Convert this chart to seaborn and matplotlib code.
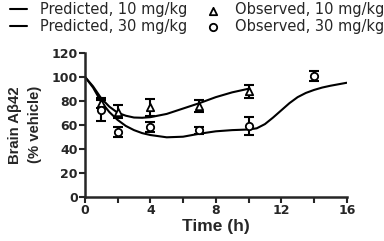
import numpy as np
import pandas as pd
import matplotlib
matplotlib.use("Agg")
import matplotlib.pyplot as plt
import seaborn as sns

# 예측 곡선 (model prediction)
pred_time_10 = [0, 0.5, 1, 1.5, 2, 2.5, 3, 3.5, 4, 5, 6, 7, 8, 9, 10]
pred_10 = [100, 92, 82, 75, 70, 67.5, 66, 65.8, 66.3, 69, 73.5, 78, 83, 87, 90]
pred_time_30 = [0, 0.5, 1, 1.5, 2, 2.5, 3, 3.5, 4, 5, 6, 7, 8, 9, 10, 10.5, 11,
                11.5, 12, 12.5, 13, 13.5, 14, 14.5, 15, 16]
pred_30 = [100, 91, 79, 70.5, 64, 59, 55.5, 53, 51.4, 49.5, 50, 52.5, 54.5, 55.5, 56,
           57, 60.5, 66, 72, 78, 83, 86.5, 89, 91, 92.5, 95]

# 관측값 (observed, mean +/- SEM)
obs_time_10 = [1, 2, 4, 7, 10]
obs_10 = [78, 71, 74.5, 76, 88]
obs_err_10 = [4, 5.5, 7, 5, 5.5]
obs_time_30 = [1, 2, 4, 7, 10, 14]
obs_30 = [72, 54, 58, 55.5, 59, 100.5]
obs_err_30 = [8.5, 4.5, 4, 3, 7.5, 4]

sns.set_style("ticks")
plt.rcParams['font.family'] = ['DejaVu Sans']

fig = plt.figure(figsize=(3.84, 2.41), dpi=100)
ax = fig.add_axes([0.221, 0.184, 0.682, 0.597])

p10 = pd.DataFrame({"t": pred_time_10, "y": pred_10})
p30 = pd.DataFrame({"t": pred_time_30, "y": pred_30})
sns.lineplot(data=p10, x="t", y="y", color="black", lw=1.5, ax=ax,
             label="Predicted, 10 mg/kg")
sns.lineplot(data=p30, x="t", y="y", color="black", lw=1.5, ax=ax,
             label="Predicted, 30 mg/kg")

ax.errorbar(obs_time_10, obs_10, yerr=obs_err_10, fmt="none", ecolor="black",
            elinewidth=1.5, capsize=3.5, capthick=1.5)
ax.errorbar(obs_time_30, obs_30, yerr=obs_err_30, fmt="none", ecolor="black",
            elinewidth=1.5, capsize=3.5, capthick=1.5)
sns.scatterplot(x=obs_time_10, y=obs_10, marker="^", s=28, facecolor="white",
                edgecolor="black", linewidth=1.3, ax=ax, label="Observed, 10 mg/kg", zorder=5)
sns.scatterplot(x=obs_time_30, y=obs_30, marker="o", s=28, facecolor="white",
                edgecolor="black", linewidth=1.3, ax=ax, label="Observed, 30 mg/kg", zorder=5)

ax.set_xlim(0, 16)
ax.set_ylim(0, 120)
ax.set_xticks([0, 4, 8, 12, 16])
ax.set_xticks([2, 6, 10, 14], minor=True)
ax.set_yticks([0, 20, 40, 60, 80, 100, 120])
ax.tick_params(axis="both", which="both", direction="out", width=1.5, length=4,
               labelsize=9, pad=1)
for lab in ax.get_xticklabels() + ax.get_yticklabels():
    lab.set_fontweight("bold")
for s in ["left", "bottom"]:
    ax.spines[s].set_linewidth(1.8)
sns.despine(ax=ax)

ax.set_xlabel("Time (h)", fontsize=12.5, fontweight="bold", labelpad=2,
              family="Liberation Sans")
ax.set_ylabel("Brain A\u03b242\n(% vehicle)", fontsize=10.7, fontweight="bold",
              labelpad=7, linespacing=1.5, family="Liberation Sans")

handles, labels = ax.get_legend_handles_labels()
ax.legend_.remove()
fig.legend(handles, labels, loc="upper left", bbox_to_anchor=(0.026, 0.99), ncol=2,
           frameon=False, fontsize=10.5, handlelength=1.15, handletextpad=0.9,
           columnspacing=1.2, labelspacing=0.1, borderaxespad=0, borderpad=0)

fig.savefig("out.png", dpi=100)
